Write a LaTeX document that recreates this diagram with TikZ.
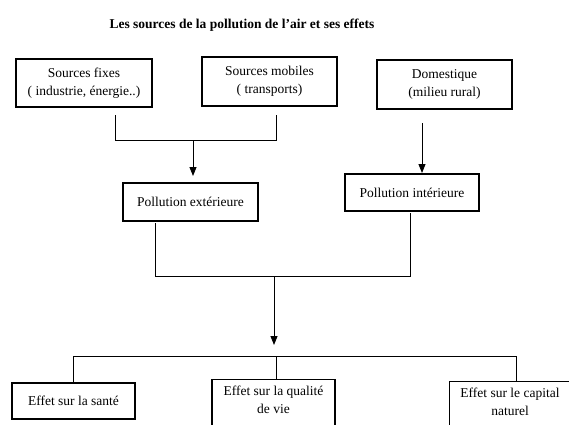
\documentclass[tikz,border=0pt]{standalone}
\usepackage{fontspec}
\setmainfont{Liberation Serif}
\usetikzlibrary{arrows.meta}
\begin{document}
\begin{tikzpicture}[x=1pt,y=-1pt,
  box/.style={draw,line width=1.3pt,inner sep=0pt,align=center,font=\fontsize{13.5}{18}\selectfont},
  frame/.style={draw,line width=1.3pt,inner sep=0pt},
  txt/.style={inner sep=0pt,align=center,font=\fontsize{13.5}{18}\selectfont},
  conn/.style={line width=0.9pt},
  arr/.style={conn,-{Triangle[length=9pt,width=7pt]}}]
\useasboundingbox (0,0) rectangle (569,424);
\clip (0,0) rectangle (569,424);
\fill[white] (0,0) rectangle (569,424);

% title
\node[inner sep=0pt,font=\fontsize{13.5}{16}\selectfont\bfseries] (title) at (242,25) {Les sources de la pollution de l'air et ses effets};

% sources
\node[box,minimum width=136pt,minimum height=48pt] (fixes) at (84,83) {Sources fixes\\( industrie, énergie..)};
\node[box,minimum width=135pt,minimum height=49pt] (mobiles) at (269.5,81.5) {Sources mobiles\\( transports)};
\node[box,minimum width=135pt,minimum height=49pt] (dom) at (444.5,84.5) {Domestique\\(milieu rural)};

% pollution
\node[box,minimum width=135pt,minimum height=38pt] (ext) at (190.5,202) {Pollution extérieure};
\node[box,minimum width=134pt,minimum height=37pt] (int) at (412,192.5) {Pollution intérieure};

% effects
\node[box,minimum width=123pt,minimum height=36pt] (sante) at (73.5,401) {Effet sur la santé};
\node[frame,minimum width=123pt,minimum height=60pt,anchor=north] (qual) at (273.5,379) {};
\node[txt] (qualt) at (273.5,400) {Effet sur la qualité\\de vie};
\node[frame,minimum width=126pt,minimum height=60pt,anchor=north west] (cap) at (449,381) {};
\node[txt] (capt) at (510,402) {Effet sur le capital\\naturel};

% connectors: sources -> pollution extérieure
\coordinate (f0) at (115,115);
\coordinate (f1) at (115,140);
\coordinate (m0) at (276,115);
\coordinate (m1) at (276,140);
\coordinate (a0) at (193,140);
\coordinate (a1) at (193,176);
\draw[conn] (f0) -- (f1) -- (m1) -- (m0);
\draw[arr] (a0) -- (a1);

% domestique -> pollution intérieure
\coordinate (d0) at (422,123);
\coordinate (d1) at (422,173);
\draw[arr] (d0) -- (d1);

% pollution -> effects
\coordinate (e0) at (155,223);
\coordinate (e1) at (155,276);
\coordinate (i0) at (410,213);
\coordinate (i1) at (410,276);
\coordinate (c0) at (274,276);
\coordinate (c1) at (274,345);
\draw[conn] (e0) -- (e1) -- (i1) -- (i0);
\draw[arr] (c0) -- (c1);

% distribution to effects
\coordinate (h1) at (73,356);
\coordinate (h2) at (276,356);
\coordinate (h3) at (516,356);
\draw[conn] (h1) -- (h3);
\draw[conn] (h1) -- (h1 |- sante.north);
\draw[conn] (h2) -- (h2 |- qual.north);
\draw[conn] (h3) -- (h3 |- cap.north);
\end{tikzpicture}
\end{document}
